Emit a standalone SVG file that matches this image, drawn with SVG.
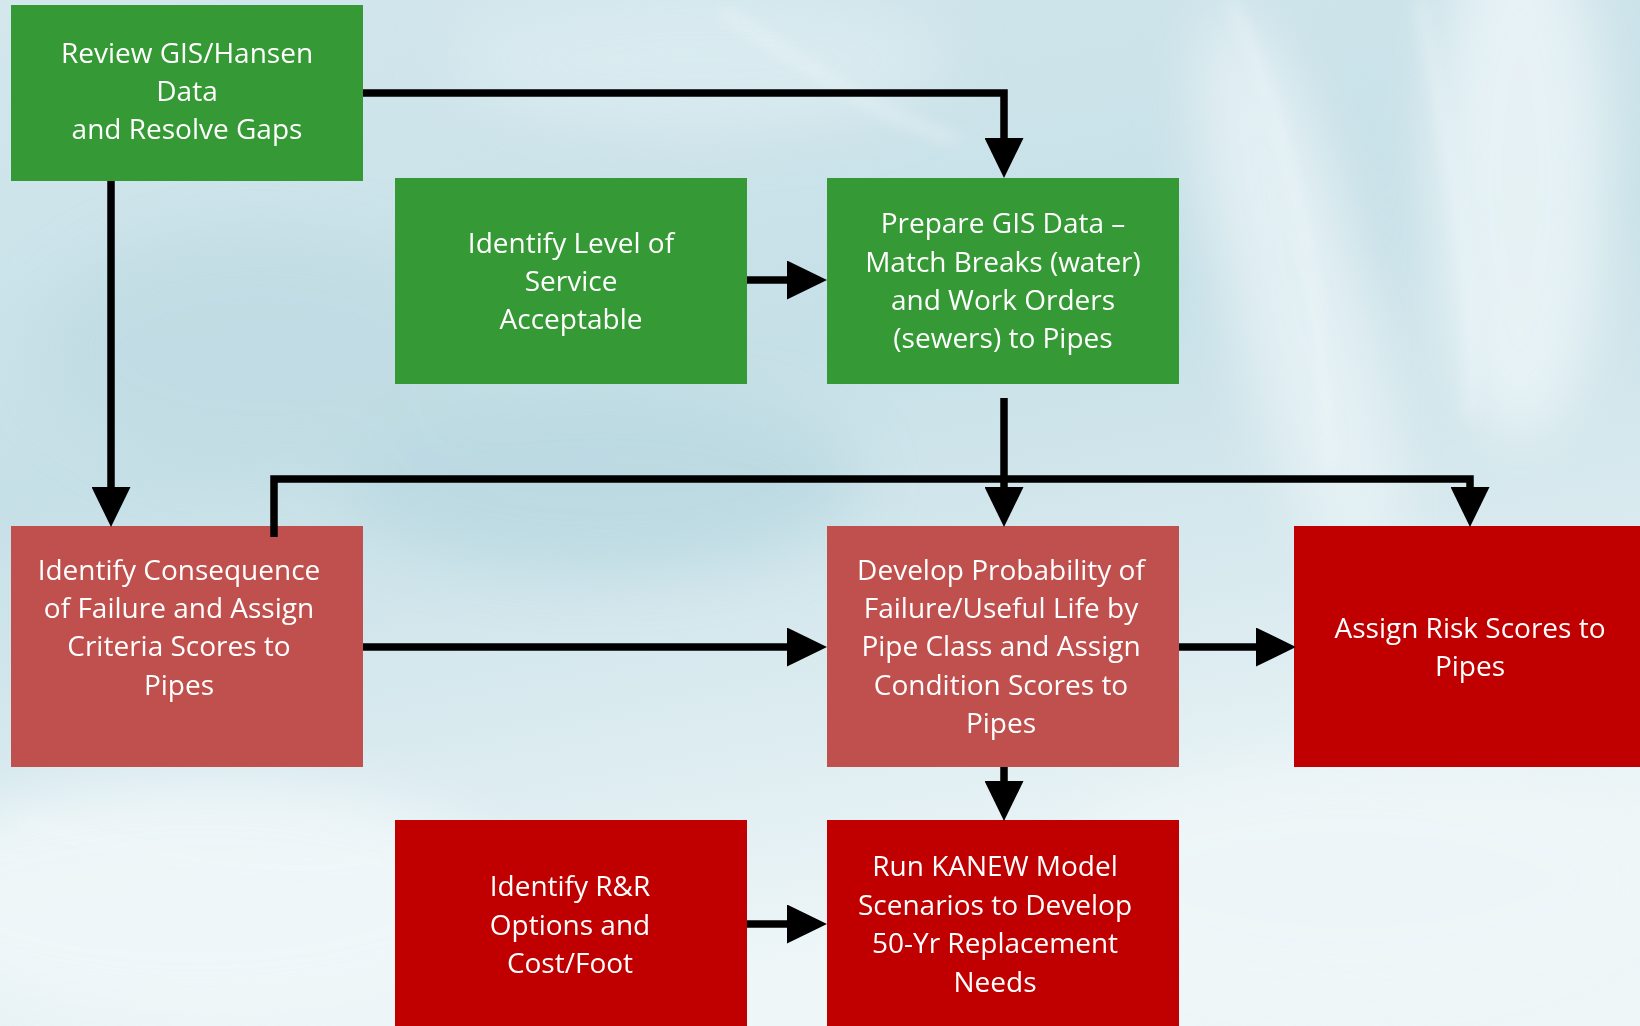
<svg xmlns="http://www.w3.org/2000/svg" width="1640" height="1026" viewBox="0 0 1640 1026">
<style>
.green{fill:#359a35}
.lred{fill:#c0504d}
.dred{fill:#c00000}
.lbl{font-family:"Open Sans","Liberation Sans",sans-serif;font-size:28px;fill:#ffffff;text-anchor:middle}
.conn{fill:none;stroke:#000000;stroke-width:7.5;stroke-linejoin:miter}
</style>
<defs>
<linearGradient id="bg" x1="0" y1="0" x2="0.3" y2="1">
<stop offset="0" stop-color="#d3e7ed"/>
<stop offset="0.45" stop-color="#c6e0e7"/>
<stop offset="0.8" stop-color="#deedf1"/>
<stop offset="1" stop-color="#eef6f8"/>
</linearGradient>
<filter id="blur" x="-50%" y="-50%" width="200%" height="200%"><feGaussianBlur stdDeviation="30"/></filter>
<filter id="blur2" x="-50%" y="-50%" width="200%" height="200%"><feGaussianBlur stdDeviation="8"/></filter>
<marker id="ah" markerUnits="userSpaceOnUse" markerWidth="40" markerHeight="39" viewBox="0 0 40 39" refX="0" refY="19.5" orient="auto">
<path d="M0,0 L40,19.5 L0,39 Z" fill="#000000"/>
</marker>
</defs>
<g id="background">
<rect x="0" y="0" width="1640" height="1026" fill="url(#bg)"/>
<g filter="url(#blur)" opacity="0.8">
<ellipse cx="1520" cy="180" rx="90" ry="260" fill="#eef6f8"/>
<ellipse cx="1300" cy="300" rx="70" ry="300" fill="#e9f3f6" transform="rotate(-15 1300 300)"/>
<ellipse cx="600" cy="480" rx="260" ry="90" fill="#b9d8e1"/>
<ellipse cx="260" cy="350" rx="220" ry="120" fill="#c0dbe3"/>
<ellipse cx="200" cy="900" rx="320" ry="120" fill="#f2f8fa"/>
<ellipse cx="1350" cy="880" rx="300" ry="120" fill="#eef6f8"/>
<ellipse cx="700" cy="60" rx="250" ry="70" fill="#dcecf1"/>
</g>
<g filter="url(#blur2)" opacity="0.45" fill="none" stroke="#f4fafc" stroke-width="10">
<path d="M1230,0 C1300,150 1320,300 1330,470"/>
<path d="M1420,0 C1440,120 1480,260 1470,420"/>
<path d="M20,820 C150,860 300,880 380,860"/>
<path d="M720,10 C800,60 880,120 960,140"/>
</g>
</g>
<g id="n1">
<rect class="green" x="11" y="5" width="352" height="176"/>
<text class="lbl"><tspan x="187" y="63">Review GIS/Hansen</tspan><tspan x="187" y="101">Data</tspan><tspan x="187" y="139">and Resolve Gaps</tspan></text>
</g>
<g id="n2">
<rect class="green" x="395" y="178" width="352" height="206"/>
<text class="lbl"><tspan x="571" y="253">Identify Level of</tspan><tspan x="571" y="291">Service</tspan><tspan x="571" y="329">Acceptable</tspan></text>
</g>
<g id="n3">
<rect class="green" x="827" y="178" width="352" height="206"/>
<text class="lbl"><tspan x="1003" y="233">Prepare GIS Data –</tspan><tspan x="1003" y="272">Match Breaks (water)</tspan><tspan x="1003" y="310">and Work Orders</tspan><tspan x="1003" y="348">(sewers) to Pipes</tspan></text>
</g>
<g id="n4">
<rect class="lred" x="11" y="526" width="352" height="241"/>
<text class="lbl"><tspan x="179" y="580">Identify Consequence</tspan><tspan x="179" y="618">of Failure and Assign</tspan><tspan x="179" y="656">Criteria Scores to</tspan><tspan x="179" y="695">Pipes</tspan></text>
</g>
<g id="n5">
<rect class="lred" x="827" y="526" width="352" height="241"/>
<text class="lbl"><tspan x="1001" y="580">Develop Probability of</tspan><tspan x="1001" y="618">Failure/Useful Life by</tspan><tspan x="1001" y="656">Pipe Class and Assign</tspan><tspan x="1001" y="695">Condition Scores to</tspan><tspan x="1001" y="733">Pipes</tspan></text>
</g>
<g id="n6">
<rect class="dred" x="1294" y="526" width="346" height="241"/>
<text class="lbl"><tspan x="1470" y="638">Assign Risk Scores to</tspan><tspan x="1470" y="676">Pipes</tspan></text>
</g>
<g id="n7">
<rect class="dred" x="395" y="820" width="352" height="206"/>
<text class="lbl"><tspan x="570" y="896">Identify R&amp;R</tspan><tspan x="570" y="935">Options and</tspan><tspan x="570" y="973">Cost/Foot</tspan></text>
</g>
<g id="n8">
<rect class="dred" x="827" y="820" width="352" height="206"/>
<text class="lbl"><tspan x="995" y="876">Run KANEW Model</tspan><tspan x="995" y="915">Scenarios to Develop</tspan><tspan x="995" y="953">50-Yr Replacement</tspan><tspan x="995" y="992">Needs</tspan></text>
</g>
<g id="connectors">
<path class="conn" d="M363,93 H1004 V138" marker-end="url(#ah)"/>
<path class="conn" d="M111,181 V487" marker-end="url(#ah)"/>
<path class="conn" d="M747,280 H787" stroke-width="8.5" marker-end="url(#ah)"/>
<path class="conn" d="M1004,398 V487" marker-end="url(#ah)"/>
<path class="conn" d="M274,537 V479 H1470 V487" marker-end="url(#ah)"/>
<path class="conn" d="M363,647 H787" stroke-width="8.5" marker-end="url(#ah)"/>
<path class="conn" d="M1179,647 H1256" stroke-width="8.5" marker-end="url(#ah)"/>
<path class="conn" d="M1004,767 V781" marker-end="url(#ah)"/>
<path class="conn" d="M747,924 H787" stroke-width="8.5" marker-end="url(#ah)"/>
</g>
</svg>
